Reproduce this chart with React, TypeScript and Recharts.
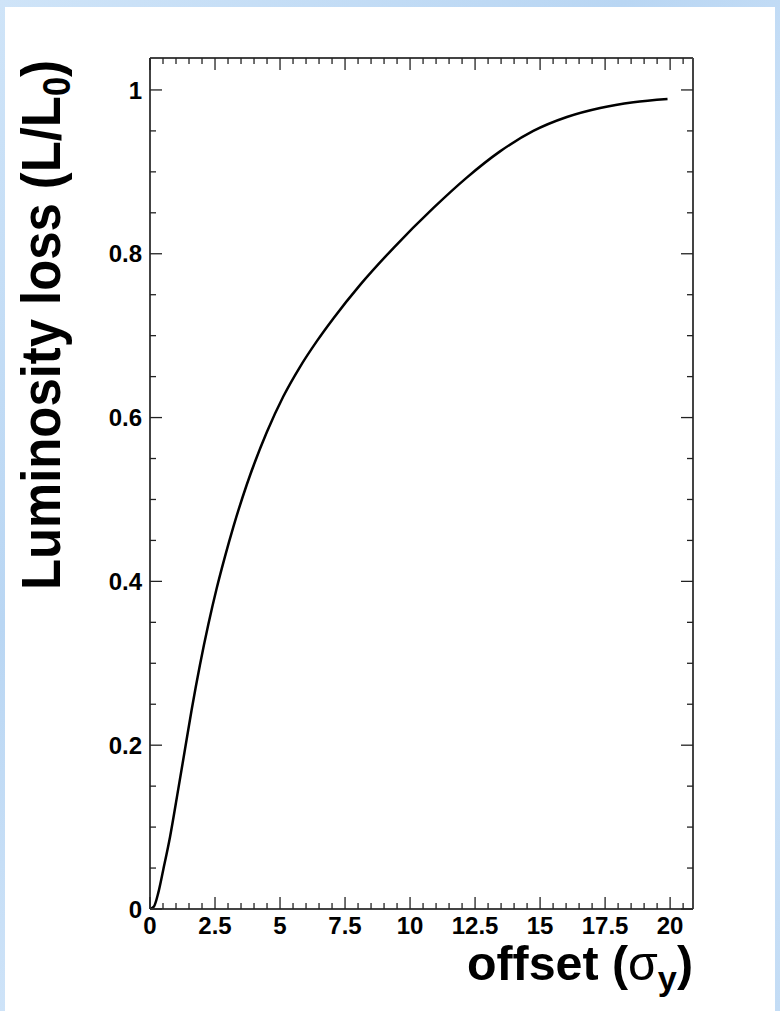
import { LineChart, Line, XAxis, YAxis } from 'recharts';

// offset in units of sigma_y
const offsets = [0, 0.15, 0.32, 0.51, 0.77, 1.09, 1.35, 1.6, 1.92, 2.24, 2.56, 2.88, 3.2, 3.72, 4.49, 5.13, 5.77, 6.41, 7.05, 8.08, 9.36, 10.9, 12.18, 13.46, 14.74, 16.03, 17.31, 18.59, 19.9];
const lumiLoss = [0, 0.003, 0.02, 0.048, 0.088, 0.147, 0.196, 0.243, 0.298, 0.347, 0.391, 0.43, 0.466, 0.518, 0.582, 0.626, 0.662, 0.693, 0.721, 0.762, 0.807, 0.856, 0.893, 0.925, 0.95, 0.967, 0.978, 0.985, 0.989];

// major + minor tick positions (ROOT style)
const xTicks = [0, 0.5, 1, 1.5, 2, 2.5, 3, 3.5, 4, 4.5, 5, 5.5, 6, 6.5, 7, 7.5, 8, 8.5, 9, 9.5, 10, 10.5, 11, 11.5, 12, 12.5, 13, 13.5, 14, 14.5, 15, 15.5, 16, 16.5, 17, 17.5, 18, 18.5, 19, 19.5, 20, 20.5];
const xMajor = [0, 2.5, 5, 7.5, 10, 12.5, 15, 17.5, 20];
const yTicks = [0, 0.05, 0.1, 0.15, 0.2, 0.25, 0.3, 0.35, 0.4, 0.45, 0.5, 0.55, 0.6, 0.65, 0.7, 0.75, 0.8, 0.85, 0.9, 0.95, 1];
const yMajor = [0, 0.2, 0.4, 0.6, 0.8, 1];

const data = offsets.map((x, i) => ({ x, v: lumiLoss[i] }));

const FONT = '"Liberation Sans", Arial, Helvetica, sans-serif';
const TICK_COLOR = '#222';

const BottomTick = ({ x, y, payload }: any) => {
    const major = xMajor.includes(payload.value);
    return (
        <g>
            <line x1={x} x2={x} y1={y} y2={y - (major ? 12 : 6)} stroke={TICK_COLOR} strokeWidth={1.3} />
            {major && (
                <text x={x} y={y + 25} textAnchor='middle' fontFamily={FONT} fontWeight='bold' fontSize={24} fill='#000'>
                    {payload.value}
                </text>
            )}
        </g>
    );
};

const TopTick = ({ x, y, payload }: any) => {
    const major = xMajor.includes(payload.value);
    return <line x1={x} x2={x} y1={y} y2={y + (major ? 12 : 6)} stroke={TICK_COLOR} strokeWidth={1.3} />;
};

const LeftTick = ({ x, y, payload }: any) => {
    const major = yMajor.includes(payload.value);
    return (
        <g>
            <line x1={x} x2={x + (major ? 12 : 6)} y1={y} y2={y} stroke={TICK_COLOR} strokeWidth={1.3} />
            {major && (
                <text x={x - 8} y={y} dy='0.36em' textAnchor='end' fontFamily={FONT} fontWeight='bold' fontSize={24} fill='#000'>
                    {payload.value}
                </text>
            )}
        </g>
    );
};

const RightTick = ({ x, y, payload }: any) => {
    const major = yMajor.includes(payload.value);
    return <line x1={x} x2={x - (major ? 12 : 6)} y1={y} y2={y} stroke={TICK_COLOR} strokeWidth={1.3} />;
};

const axisLine = { stroke: '#444', strokeWidth: 2 };

export default function App() {
    return (
        <div
            style={{
                position: 'absolute',
                left: 0,
                top: 0,
                width: 780,
                height: 1011,
                background: 'linear-gradient(135deg, #cfe4f8 0%, #b9d6f3 35%, #d6e8fa 65%, #c3dcf5 100%)',
                overflow: 'hidden',
            }}
        >
            <div style={{ position: 'absolute', left: 5, top: 7, width: 770, height: 1004, background: '#fff' }} />
            <div style={{ position: 'absolute', left: 0, top: 0 }}>
                <LineChart width={780} height={1011} data={data} margin={{ top: 57, right: 86, bottom: 101, left: 149 }}>
                    <XAxis
                        xAxisId='bottom'
                        dataKey='x'
                        type='number'
                        domain={[0, 20.88]}
                        ticks={xTicks}
                        interval={0}
                        allowDataOverflow
                        height={1}
                        tickSize={0}
                        tickMargin={0}
                        tickLine={false}
                        axisLine={axisLine}
                        tick={(p: any) => <BottomTick {...p} />}
                    />
                    <XAxis
                        xAxisId='top'
                        orientation='top'
                        dataKey='x'
                        type='number'
                        domain={[0, 20.88]}
                        ticks={xTicks}
                        interval={0}
                        allowDataOverflow
                        height={1}
                        tickSize={0}
                        tickMargin={0}
                        tickLine={false}
                        axisLine={axisLine}
                        tick={(p: any) => <TopTick {...p} />}
                    />
                    <YAxis
                        yAxisId='left'
                        type='number'
                        domain={[0, 1.039]}
                        ticks={yTicks}
                        interval={0}
                        allowDataOverflow
                        width={1}
                        tickSize={0}
                        tickMargin={0}
                        tickLine={false}
                        axisLine={axisLine}
                        tick={(p: any) => <LeftTick {...p} />}
                    />
                    <YAxis
                        yAxisId='right'
                        orientation='right'
                        type='number'
                        domain={[0, 1.039]}
                        ticks={yTicks}
                        interval={0}
                        allowDataOverflow
                        width={1}
                        tickSize={0}
                        tickMargin={0}
                        tickLine={false}
                        axisLine={axisLine}
                        tick={(p: any) => <RightTick {...p} />}
                    />
                    <Line
                        xAxisId='bottom'
                        yAxisId='left'
                        type='monotone'
                        dataKey='v'
                        stroke='#000'
                        strokeWidth={2.5}
                        dot={false}
                        isAnimationActive={false}
                    />
                </LineChart>
            </div>
            <svg width={780} height={1011} style={{ position: 'absolute', left: 0, top: 0, pointerEvents: 'none' }}>
                <text
                    transform='translate(60, 60) rotate(-90)'
                    textAnchor='end'
                    fontFamily={FONT}
                    fontWeight='bold'
                    fontSize={56}
                    textLength={530}
                    lengthAdjust='spacingAndGlyphs'
                    fill='#000'
                >
                    Luminosity loss (L/L<tspan dy={10} fontSize={38}>0</tspan>
                    <tspan dy={-10}>)</tspan>
                </text>
                <text
                    x={693}
                    y={980}
                    textAnchor='end'
                    fontFamily={FONT}
                    fontWeight='bold'
                    fontSize={48}
                    textLength={226}
                    lengthAdjust='spacingAndGlyphs'
                    fill='#000'
                >
                    offset (<tspan fontWeight='normal'>σ</tspan>
                    <tspan dy={10} fontSize={34}>y</tspan>
                    <tspan dy={-10}>)</tspan>
                </text>
            </svg>
        </div>
    );
}
